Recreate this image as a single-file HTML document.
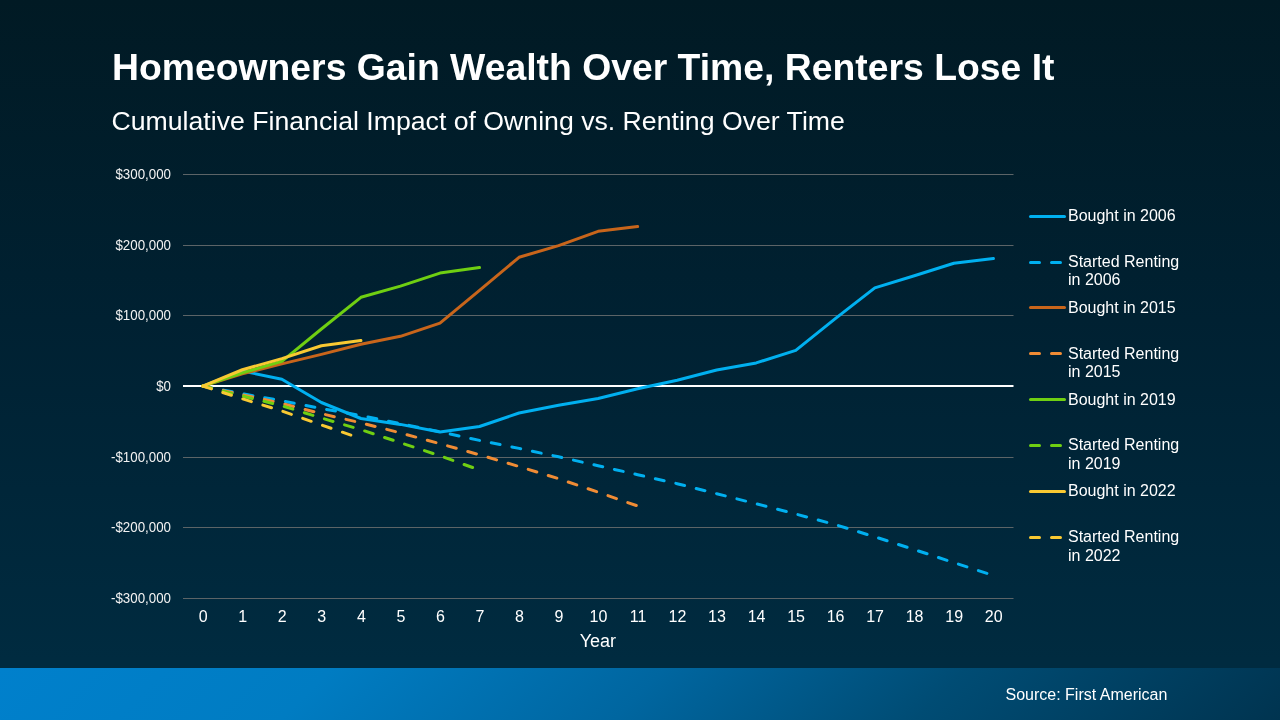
<!DOCTYPE html>
<html><head><meta charset="utf-8"><title>Homeowners Gain Wealth Over Time, Renters Lose It</title>
<style>
html,body{margin:0;padding:0;}
body{width:1280px;height:720px;overflow:hidden;position:relative;font-family:"Liberation Sans",sans-serif;
background:linear-gradient(to bottom,#011a24 0px,#002132 320px,#002b40 660px);}
#footer{position:absolute;left:0;top:668px;width:1280px;height:52px;
background:linear-gradient(135deg,#0080cc 0%,#007cc2 25%,#0066a0 50%,#004c74 72.5%,#003450 100%);}
svg{position:absolute;left:0;top:0;will-change:transform;}
svg path{fill:none;stroke-width:3;stroke-linecap:round;stroke-linejoin:round;}
.t1{font-weight:bold;font-size:37.33px;fill:#ffffff;}
.t2{font-size:26.67px;fill:#ffffff;}
.yl{font-size:13.33px;fill:#f2f2f2;}
.xl{font-size:16px;fill:#ffffff;}
.xt{font-size:18px;fill:#ffffff;}
.lg{font-size:16px;fill:#ffffff;}
.src{font-size:16px;fill:#ffffff;}
</style></head><body>
<div id="footer"></div>
<svg width="1280" height="720" viewBox="0 0 1280 720">
<text x="112" y="79.6" class="t1">Homeowners Gain Wealth Over Time, Renters Lose It</text>
<text x="111.5" y="129.8" class="t2">Cumulative Financial Impact of Owning vs. Renting Over Time</text>
<rect x="183" y="174" width="830.5" height="1" fill="#5c6467"/>
<rect x="183" y="245" width="830.5" height="1" fill="#5c6467"/>
<rect x="183" y="315" width="830.5" height="1" fill="#5c6467"/>
<rect x="183" y="457" width="830.5" height="1" fill="#5c6467"/>
<rect x="183" y="527" width="830.5" height="1" fill="#5c6467"/>
<rect x="183" y="598" width="830.5" height="1" fill="#5c6467"/>
<rect x="183" y="385" width="830.5" height="2" fill="#ffffff"/>
<text transform="translate(171,179.10) scale(1,1.08)" text-anchor="end" class="yl">$300,000</text>
<text transform="translate(171,250.10) scale(1,1.08)" text-anchor="end" class="yl">$200,000</text>
<text transform="translate(171,320.10) scale(1,1.08)" text-anchor="end" class="yl">$100,000</text>
<text transform="translate(171,390.60) scale(1,1.08)" text-anchor="end" class="yl">$0</text>
<text transform="translate(171,462.10) scale(1,1.08)" text-anchor="end" class="yl">-$100,000</text>
<text transform="translate(171,532.10) scale(1,1.08)" text-anchor="end" class="yl">-$200,000</text>
<text transform="translate(171,603.10) scale(1,1.08)" text-anchor="end" class="yl">-$300,000</text>
<text x="203.26" y="622" text-anchor="middle" class="xl">0</text>
<text x="242.78" y="622" text-anchor="middle" class="xl">1</text>
<text x="282.30" y="622" text-anchor="middle" class="xl">2</text>
<text x="321.82" y="622" text-anchor="middle" class="xl">3</text>
<text x="361.34" y="622" text-anchor="middle" class="xl">4</text>
<text x="400.86" y="622" text-anchor="middle" class="xl">5</text>
<text x="440.38" y="622" text-anchor="middle" class="xl">6</text>
<text x="479.90" y="622" text-anchor="middle" class="xl">7</text>
<text x="519.42" y="622" text-anchor="middle" class="xl">8</text>
<text x="558.94" y="622" text-anchor="middle" class="xl">9</text>
<text x="598.46" y="622" text-anchor="middle" class="xl">10</text>
<text x="637.98" y="622" text-anchor="middle" class="xl">11</text>
<text x="677.50" y="622" text-anchor="middle" class="xl">12</text>
<text x="717.02" y="622" text-anchor="middle" class="xl">13</text>
<text x="756.54" y="622" text-anchor="middle" class="xl">14</text>
<text x="796.06" y="622" text-anchor="middle" class="xl">15</text>
<text x="835.58" y="622" text-anchor="middle" class="xl">16</text>
<text x="875.10" y="622" text-anchor="middle" class="xl">17</text>
<text x="914.62" y="622" text-anchor="middle" class="xl">18</text>
<text x="954.14" y="622" text-anchor="middle" class="xl">19</text>
<text x="993.66" y="622" text-anchor="middle" class="xl">20</text>
<text x="597.9" y="647" text-anchor="middle" class="xt">Year</text>
<path d="M202.80,386.10 L242.33,371.00 L281.86,379.20 L321.39,402.50 L360.92,418.50 L400.45,424.40 L439.98,432.00 L479.51,426.50 L519.04,413.00 L558.57,405.30 L598.10,398.50 L637.63,388.75 L677.16,380.30 L716.69,370.00 L756.22,362.90 L795.75,350.40 L835.28,318.60 L874.81,287.90 L914.34,275.80 L953.87,263.30 L993.40,258.50" stroke="#00b0f0"/>
<path d="M202.80,386.10 L242.33,393.80 L281.86,400.80 L321.39,408.50 L360.92,415.50 L400.45,423.60 L439.98,431.80 L479.51,440.40 L519.04,448.40 L558.57,456.80 L598.10,465.70 L637.63,474.70 L677.16,483.70 L716.69,493.70 L756.22,503.80 L795.75,514.00 L835.28,524.70 L874.81,536.80 L914.34,549.60 L953.87,562.60 L993.40,575.50" stroke="#00b0f0" stroke-dasharray="9 12"/>
<path d="M202.80,386.10 L242.33,373.90 L281.86,363.90 L321.39,354.40 L360.92,344.20 L400.45,336.30 L439.98,323.10 L479.51,290.30 L519.04,257.30 L558.57,245.60 L598.10,231.30 L637.63,226.60" stroke="#c8651b"/>
<path d="M202.80,386.10 L242.33,394.80 L281.86,403.40 L321.39,413.70 L360.92,422.80 L400.45,432.90 L439.98,443.70 L479.51,454.80 L519.04,466.50 L558.57,478.70 L598.10,492.20 L637.63,506.00" stroke="#f08c35" stroke-dasharray="9 12"/>
<path d="M202.80,386.10 L242.33,372.90 L281.86,361.30 L321.39,329.00 L360.92,297.30 L400.45,286.10 L439.98,273.10 L479.51,267.60" stroke="#6fcf12"/>
<path d="M202.80,386.10 L242.33,396.00 L281.86,405.70 L321.39,418.00 L360.92,429.70 L400.45,442.70 L439.98,455.80 L479.51,470.00" stroke="#6fcf12" stroke-dasharray="9 12"/>
<path d="M202.80,386.10 L242.33,369.75 L281.86,358.60 L321.39,345.80 L360.92,340.50" stroke="#f9c932"/>
<path d="M202.80,386.10 L242.33,398.80 L281.86,411.00 L321.39,424.90 L360.92,438.60" stroke="#f9c932" stroke-dasharray="9 12"/>
<path d="M1030.5,216.50 L1064.5,216.50" stroke="#00b0f0"/>
<text x="1068" y="221" class="lg">Bought in 2006</text>
<path d="M1030.5,262.50 L1064.5,262.50" stroke="#00b0f0" stroke-dasharray="9 12"/>
<text x="1068" y="267" class="lg">Started Renting</text>
<text x="1068" y="285" class="lg">in 2006</text>
<path d="M1030.5,307.50 L1064.5,307.50" stroke="#c8651b"/>
<text x="1068" y="313" class="lg">Bought in 2015</text>
<path d="M1030.5,353.50 L1064.5,353.50" stroke="#f08c35" stroke-dasharray="9 12"/>
<text x="1068" y="359" class="lg">Started Renting</text>
<text x="1068" y="377" class="lg">in 2015</text>
<path d="M1030.5,399.50 L1064.5,399.50" stroke="#6fcf12"/>
<text x="1068" y="405" class="lg">Bought in 2019</text>
<path d="M1030.5,445.50 L1064.5,445.50" stroke="#6fcf12" stroke-dasharray="9 12"/>
<text x="1068" y="450" class="lg">Started Renting</text>
<text x="1068" y="469" class="lg">in 2019</text>
<path d="M1030.5,491.50 L1064.5,491.50" stroke="#f9c932"/>
<text x="1068" y="496" class="lg">Bought in 2022</text>
<path d="M1030.5,537.50 L1064.5,537.50" stroke="#f9c932" stroke-dasharray="9 12"/>
<text x="1068" y="542" class="lg">Started Renting</text>
<text x="1068" y="561" class="lg">in 2022</text>
<text x="1005.5" y="699.7" class="src">Source: First American</text>
</svg>
</body></html>
